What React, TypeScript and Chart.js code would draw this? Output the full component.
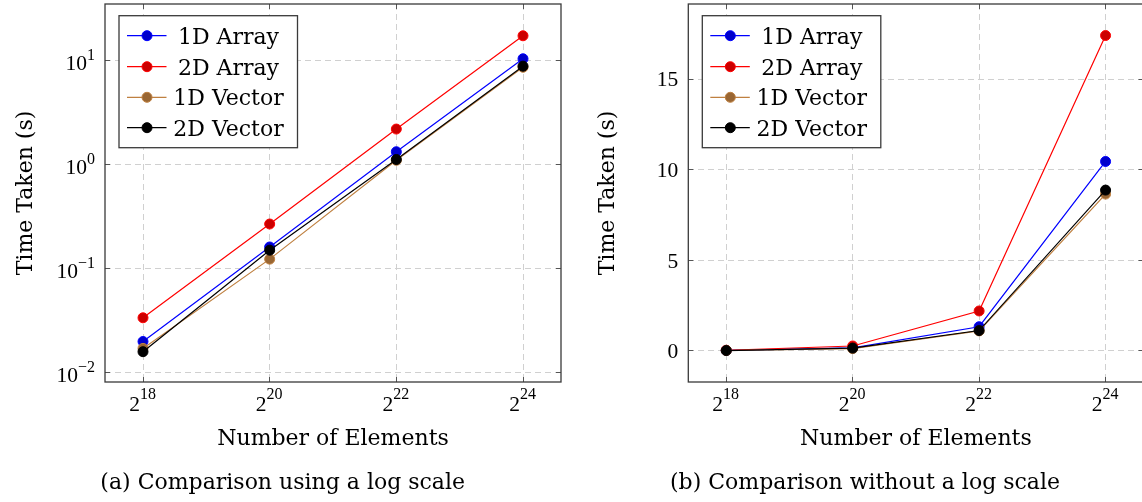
import React, { useEffect, useRef } from 'react';
import { Chart, registerables } from 'chart.js';

Chart.register(...registerables);

// ---------- data ----------
const elements = [262144, 1048576, 4194304, 16777216];
const xTickBases = ['2', '2', '2', '2'];
const xTickExps = ['18', '20', '22', '24'];

const seriesNames = ['1D Array', '2D Array', '1D Vector', '2D Vector'];
const array1D = [0.0198, 0.161, 1.33, 10.45];
const array2D = [0.0335, 0.268, 2.2, 17.4];
const vector1D = [0.017, 0.123, 1.1, 8.65];
const vector2D = [0.0158, 0.15, 1.12, 8.87];

const lineColors = ['#0000ff', '#ff0000', '#bf8040', '#000000'];
const markColors = ['#0000cc', '#cc0000', '#996633', '#000000'];

const logYTicks = [0.01, 0.1, 1, 10];
const logYBases = ['10', '10', '10', '10'];
const logYExps = ['\u22122', '\u22121', '0', '1'];

const linYTicks = [0, 5, 10, 15];
const linYBases = ['0', '5', '10', '15'];
const linYExps = ['', '', '', ''];

const xTitle = 'Number of Elements';
const yTitle = 'Time Taken (s)';
const captionA = '(a) Comparison using a log scale';
const captionB = '(b) Comparison without a log scale';

// ---------- styles ----------
const WORD_FONT = '22px "DejaVu Serif"';
const TICK_FONT = '21.5px "Liberation Serif"';
const EXP_FONT = '16px "Liberation Serif"';
const FRAME = '#3a3a3a';

type Cfg = {
  yType: 'logarithmic' | 'linear';
  yMin: number;
  yMax: number;
  yTicks: number[];
  yBases: string[];
  yExps: string[];
  yBaseDrop: number;
  caption: string;
  captionX: number;
  yTitleX: number;
  width: number;
  pad: { left: number; right: number; top: number; bottom: number };
};

function makeDecor(cfg: Cfg) {
  return {
    id: 'decor',
    afterDatasetsDraw(chart: any) {
      const ctx: CanvasRenderingContext2D = chart.ctx;
      const a = chart.chartArea;
      const xs = chart.scales.x;
      const ys = chart.scales.y;
      ctx.save();

      // inner tick marks
      ctx.strokeStyle = '#555555';
      ctx.lineWidth = 1;
      ctx.beginPath();
      elements.forEach((v) => {
        const px = Math.round(xs.getPixelForValue(v) - 0.5) + 0.5;
        ctx.moveTo(px, a.bottom);
        ctx.lineTo(px, a.bottom - 5);
        ctx.moveTo(px, a.top);
        ctx.lineTo(px, a.top + 5);
      });
      cfg.yTicks.forEach((v) => {
        const py = Math.round(ys.getPixelForValue(v) - 0.5) + 0.5;
        ctx.moveTo(a.left, py);
        ctx.lineTo(a.left + 5, py);
        ctx.moveTo(a.right, py);
        ctx.lineTo(a.right - 5, py);
      });
      ctx.stroke();

      // frame
      ctx.strokeStyle = FRAME;
      ctx.lineWidth = 1.3;
      ctx.strokeRect(a.left, a.top, a.right - a.left, a.bottom - a.top);

      ctx.fillStyle = '#000';
      ctx.textBaseline = 'alphabetic';

      // x tick labels
      elements.forEach((v, i) => {
        const px = xs.getPixelForValue(v);
        ctx.font = TICK_FONT;
        const wb = ctx.measureText(xTickBases[i]).width;
        ctx.font = EXP_FONT;
        const we = ctx.measureText(xTickExps[i]).width;
        const x0 = px - (wb + we) / 2 - 0.5;
        const by = a.bottom + 29;
        ctx.textAlign = 'left';
        ctx.font = TICK_FONT;
        ctx.fillText(xTickBases[i], x0, by);
        ctx.font = EXP_FONT;
        ctx.fillText(xTickExps[i], x0 + wb, by - 12);
      });

      // y tick labels
      cfg.yTicks.forEach((v, i) => {
        const py = ys.getPixelForValue(v);
        const right = a.left - 10;
        ctx.font = TICK_FONT;
        const wb = ctx.measureText(cfg.yBases[i]).width;
        ctx.font = EXP_FONT;
        const we = cfg.yExps[i] ? ctx.measureText(cfg.yExps[i]).width : 0;
        const x0 = right - wb - we;
        const by = py + cfg.yBaseDrop;
        ctx.textAlign = 'left';
        ctx.font = TICK_FONT;
        ctx.fillText(cfg.yBases[i], x0, by);
        if (cfg.yExps[i]) {
          ctx.font = EXP_FONT;
          ctx.fillText(cfg.yExps[i], x0 + wb, by - 10);
        }
      });

      // axis titles
      ctx.font = WORD_FONT;
      ctx.textAlign = 'center';
      ctx.fillText(xTitle, (a.left + a.right) / 2, a.bottom + 63);
      ctx.save();
      ctx.translate(cfg.yTitleX, (a.top + a.bottom) / 2);
      ctx.rotate(-Math.PI / 2);
      ctx.fillText(yTitle, 0, 0);
      ctx.restore();

      // caption
      ctx.font = WORD_FONT;
      ctx.textAlign = 'center';
      ctx.fillText(cfg.caption, cfg.captionX, a.bottom + 107);

      // legend
      const bx = a.left + 14;
      const by = a.top + 11.7;
      const bw = 178.5;
      const bh = 132;
      ctx.fillStyle = '#ffffff';
      ctx.fillRect(bx, by, bw, bh);
      ctx.strokeStyle = FRAME;
      ctx.lineWidth = 1.3;
      ctx.strokeRect(bx, by, bw, bh);
      const rows = [20, 51, 81.6, 112];
      seriesNames.forEach((name, i) => {
        const cy = by + rows[i];
        ctx.strokeStyle = lineColors[i];
        ctx.lineWidth = 1.2;
        ctx.beginPath();
        ctx.moveTo(bx + 8, cy);
        ctx.lineTo(bx + 47.5, cy);
        ctx.stroke();
        ctx.beginPath();
        ctx.arc(bx + 28, cy, 5, 0, Math.PI * 2);
        ctx.fillStyle = markColors[i];
        ctx.fill();
        ctx.lineWidth = 1;
        ctx.strokeStyle = lineColors[i];
        ctx.stroke();
        ctx.fillStyle = '#000';
        ctx.font = WORD_FONT;
        ctx.textAlign = 'center';
        ctx.fillText(name, bx + 109.5, cy + 8);
      });

      ctx.restore();
    },
  };
}

function Panel({ cfg, left }: { cfg: Cfg; left: number }) {
  const ref = useRef<HTMLCanvasElement>(null);
  useEffect(() => {
    const series = [array1D, array2D, vector1D, vector2D];
    const chart = new Chart(ref.current as HTMLCanvasElement, {
      type: 'line',
      data: {
        datasets: series.map((s, i) => ({
          label: seriesNames[i],
          data: elements.map((x, j) => ({ x, y: s[j] })),
          borderColor: lineColors[i],
          backgroundColor: markColors[i],
          pointBackgroundColor: markColors[i],
          pointBorderColor: lineColors[i],
          pointBorderWidth: 1,
          pointRadius: 5,
          borderWidth: 1.2,
          tension: 0,
          fill: false,
          order: 3 - i,
        })),
      },
      options: {
        responsive: false,
        animation: false,
        events: [],
        layout: { padding: cfg.pad, autoPadding: false } as any,
        plugins: {
          legend: { display: false },
          tooltip: { enabled: false },
          title: { display: false },
        },
        scales: {
          x: {
            type: 'logarithmic',
            min: 172950,
            max: 25429000,
            bounds: 'data',
            afterBuildTicks: (s: any) => {
              s.ticks = elements.map((v) => ({ value: v }));
            },
            ticks: { display: false },
            grid: { color: '#d0d0d0', lineWidth: 1, drawTicks: false },
            border: { display: false, dash: [6, 4] },
          } as any,
          y: {
            type: cfg.yType,
            min: cfg.yMin,
            max: cfg.yMax,
            bounds: 'data',
            afterBuildTicks: (s: any) => {
              s.ticks = cfg.yTicks.map((v) => ({ value: v }));
            },
            ticks: { display: false },
            grid: { color: '#d0d0d0', lineWidth: 1, drawTicks: false },
            border: { display: false, dash: [6, 4] },
          } as any,
        },
      },
      plugins: [makeDecor(cfg)],
    });
    return () => chart.destroy();
  }, []);
  return (
    <canvas
      ref={ref}
      width={cfg.width}
      height={502}
      style={{ position: 'absolute', left, top: 0, width: cfg.width, height: 502, display: 'block' }}
    />
  );
}

const leftCfg: Cfg = {
  yType: 'logarithmic',
  yMin: 0.00807,
  yMax: 35.2,
  yTicks: logYTicks,
  yBases: logYBases,
  yExps: logYExps,
  yBaseDrop: 9.7,
  caption: captionA,
  captionX: 282.7,
  yTitleX: 31.5,
  width: 571,
  pad: { left: 105, right: 10, top: 4, bottom: 120 },
};

const rightCfg: Cfg = {
  yType: 'linear',
  yMin: -1.72,
  yMax: 19.14,
  yTicks: linYTicks,
  yBases: linYBases,
  yExps: linYExps,
  yBaseDrop: 7.4,
  caption: captionB,
  captionX: 294,
  yTitleX: 43,
  width: 576,
  pad: { left: 117.3, right: 3.5, top: 4, bottom: 120 },
};

export default function App() {
  return (
    <div
      style={{
        position: 'absolute',
        left: 0,
        top: 0,
        width: 1142,
        height: 502,
        overflow: 'hidden',
        background: '#ffffff',
      }}
    >
      <Panel cfg={leftCfg} left={0} />
      <Panel cfg={rightCfg} left={571} />
    </div>
  );
}
